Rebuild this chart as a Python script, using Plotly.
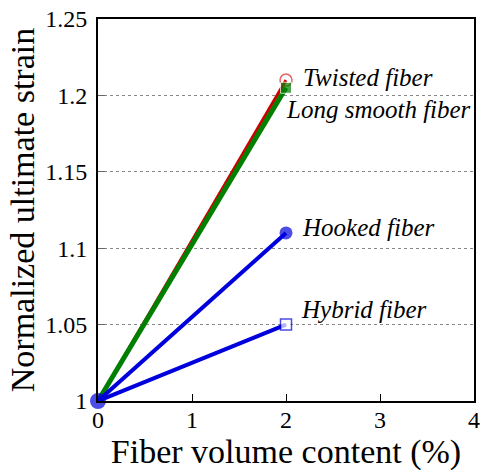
import plotly.graph_objects as go

fiber_content = [0, 2]
twisted = [1.0, 1.21]
long_smooth = [1.0, 1.205]
hooked = [1.0, 1.11]
hybrid = [1.0, 1.05]
x_ticks = [0, 1, 2, 3, 4]
y_ticks = [1, 1.05, 1.1, 1.15, 1.2, 1.25]
y_tick_text = ["1", "1.05", "1.1", "1.15", "1.2", "1.25"]
labels = ["Twisted fiber", "Long smooth fiber", "Hooked fiber", "Hybrid fiber"]

SERIF = '"Liberation Serif", "Times New Roman", Times, serif'

fig = go.Figure()
fig.add_trace(go.Scatter(x=fiber_content, y=twisted, mode="lines+markers", cliponaxis=False,
    line=dict(color="#cc0000", width=3),
    marker=dict(symbol="circle-open", size=[1, 12], color="#dd2222", line=dict(width=1.5))))
fig.add_trace(go.Scatter(x=fiber_content, y=long_smooth, mode="lines+markers", cliponaxis=False,
    line=dict(color="#008000", width=5),
    marker=dict(symbol="square", size=[1, 11], color="#008000")))
fig.add_trace(go.Scatter(x=fiber_content, y=hybrid, mode="lines+markers", cliponaxis=False,
    line=dict(color="#0000dd", width=4),
    marker=dict(symbol="square", size=[1, 11], color="white", line=dict(color="#0000dd", width=1.5))))
fig.add_trace(go.Scatter(x=fiber_content, y=hooked, mode="lines+markers", cliponaxis=False,
    line=dict(color="#0000dd", width=4),
    marker=dict(symbol="circle", size=[16, 13], color="#0000dd", line=dict(width=0))))

shifts = [(15, 3), (-2, -22), (14, 5), (13, 15)]
ends = [twisted[-1], long_smooth[-1], hooked[-1], hybrid[-1]]
for lab, yv, (dx, dy) in zip(labels, ends, shifts):
    fig.add_annotation(x=fiber_content[-1], y=yv, text="<i>" + lab + "</i>", showarrow=False,
        xanchor="left", yanchor="middle", xshift=dx, yshift=dy,
        font=dict(family=SERIF, size=25, color="black"))

fig.update_layout(
    width=486, height=473, showlegend=False,
    margin=dict(l=98, r=6, t=16, b=72),
    plot_bgcolor="white", paper_bgcolor="white",
    font=dict(family=SERIF, color="black"),
)
fig.update_xaxes(range=[0, 4], tickvals=x_ticks, ticks="inside", ticklen=7, tickcolor="black",
    showgrid=False, zeroline=False, showline=True, mirror=True, linecolor="black", linewidth=2,
    tickfont=dict(size=24, family=SERIF), ticklabeloverflow="allow", ticklabelstandoff=-4,
    title=dict(text="Fiber volume content (%)", font=dict(size=34, family=SERIF), standoff=3))
fig.update_yaxes(range=[1, 1.25], tickvals=y_ticks, ticktext=y_tick_text, ticks="inside", ticklen=7,
    tickcolor="#666666", showgrid=True, gridcolor="#888888", griddash="dot", gridwidth=1,
    zeroline=False, showline=True, mirror=True, linecolor="black", linewidth=2,
    tickfont=dict(size=24, family=SERIF), ticklabeloverflow="allow", ticklabelstandoff=4,
    title=dict(text="Normalized ultimate strain", font=dict(size=34, family=SERIF), standoff=0))

fig.write_html("out.html", config={"displayModeBar": False},
               post_script="document.body.style.margin='0';document.body.style.padding='0';")
